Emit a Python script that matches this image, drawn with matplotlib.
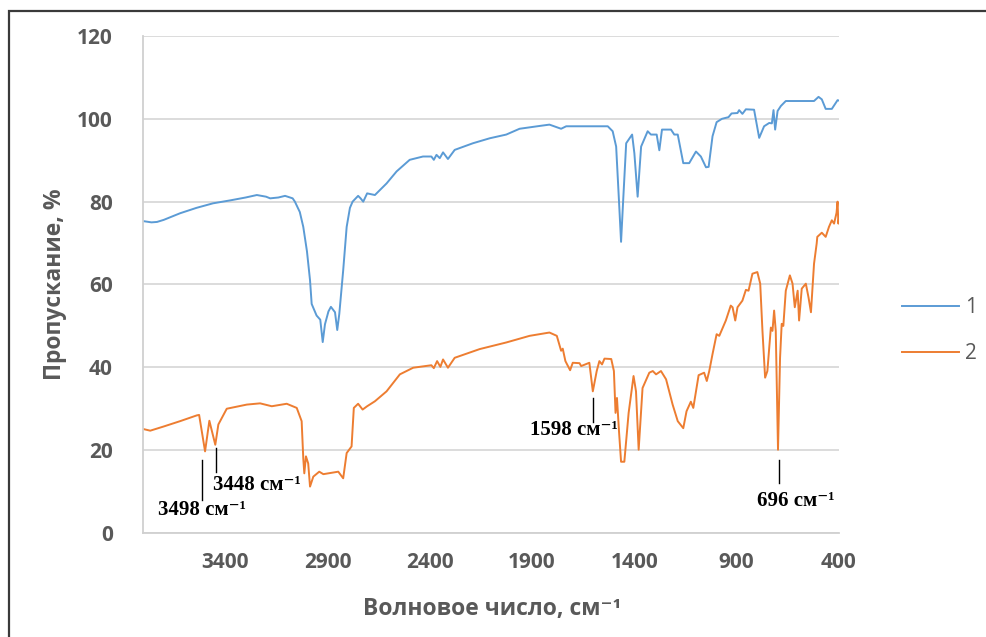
#! /usr/bin/env python3

#IR spectra of two samples, transmittance vs wavenumber.

import matplotlib
matplotlib.use('Agg')
import matplotlib.pyplot as plt
from matplotlib.patches import Rectangle

#Spectrum 1 (blue).
wave1 = [3800, 3760, 3733, 3700, 3620, 3540, 3459, 3376, 3300, 3245, 3200, 3180, 3140, 3107,
         3070, 3059, 3035, 3018, 3000, 2985, 2977, 2953, 2935, 2923, 2912, 2895, 2883, 2863,
         2852, 2842, 2823, 2806, 2790, 2777, 2750, 2738, 2725, 2706, 2668, 2611, 2562, 2498,
         2433, 2392, 2380, 2367, 2351, 2335, 2311, 2278, 2189, 2107, 2026, 1961, 1860, 1815,
         1758, 1733, 1530, 1506, 1489, 1475, 1465, 1455, 1440, 1411, 1400, 1384, 1367, 1335,
         1319, 1291, 1278, 1265, 1221, 1205, 1188, 1161, 1132, 1099, 1075, 1050, 1037, 1018,
         998, 972, 940, 925, 896, 888, 872, 855, 815, 790, 766, 741, 728, 720, 712, 700, 684,
         660, 522, 500, 484, 465, 435, 407, 400]
trans1 = [75.3, 75.0, 75.1, 75.6, 77.2, 78.5, 79.6, 80.3, 81.0, 81.6, 81.2, 80.8, 81.0, 81.4,
          80.8, 80.0, 77.5, 73.9, 68.0, 61.0, 55.3, 52.5, 51.5, 46.1, 50.4, 53.5, 54.6, 53.3,
          49.0, 52.9, 63.4, 73.9, 78.5, 80.0, 81.4, 80.8, 80.0, 82.0, 81.6, 84.4, 87.3, 90.1,
          90.9, 90.9, 90.1, 91.3, 90.5, 91.9, 90.3, 92.5, 94.1, 95.3, 96.2, 97.6, 98.3, 98.6,
          97.6, 98.2, 98.2, 97.0, 93.3, 80.0, 70.3, 80.0, 94.1, 96.2, 91.7, 81.2, 93.3, 97.0,
          96.2, 96.2, 92.4, 97.4, 97.4, 96.2, 96.2, 89.3, 89.3, 92.1, 90.9, 88.3, 88.4, 95.8,
          99.2, 100.0, 100.4, 101.3, 101.4, 102.1, 101.2, 102.3, 102.2, 95.4, 98.2, 99.0, 98.9,
          102.1, 97.4, 101.9, 103.1, 104.3, 104.3, 105.3, 104.7, 102.4, 102.4, 104.5, 104.4]

#Spectrum 2 (orange).
wave2 = [3800, 3766, 3701, 3620, 3538, 3527, 3498, 3477, 3448, 3433, 3392, 3294, 3229, 3172,
         3099, 3050, 3026, 3018, 3013, 3005, 2994, 2985, 2969, 2940, 2920, 2847, 2823, 2806,
         2782, 2771, 2750, 2728, 2706, 2668, 2611, 2546, 2481, 2392, 2380, 2364, 2348, 2335,
         2311, 2278, 2156, 2026, 1912, 1815, 1779, 1758, 1750, 1737, 1714, 1701, 1668, 1660,
         1620, 1603, 1584, 1571, 1558, 1546, 1513, 1500, 1492, 1485, 1475, 1465, 1449, 1428,
         1404, 1392, 1379, 1360, 1327, 1310, 1294, 1270, 1245, 1213, 1188, 1161, 1145, 1124,
         1112, 1086, 1059, 1046, 1034, 1018, 998, 985, 953, 929, 920, 907, 896, 872, 855, 842,
         823, 799, 785, 774, 761, 750, 733, 725, 717, 709, 698, 688, 680, 672, 660, 640, 627,
         616, 602, 595, 582, 562, 549, 537, 522, 509, 506, 484, 465, 449, 435, 424, 412, 407,
         403, 400]
trans2 = [25.1, 24.7, 25.7, 27.0, 28.4, 28.5, 19.7, 27.1, 21.3, 26.2, 30.0, 31.0, 31.3, 30.6,
          31.2, 30.2, 27.0, 18.0, 14.4, 18.5, 16.8, 11.2, 13.6, 14.8, 14.2, 14.8, 13.2, 19.3,
          20.9, 30.2, 31.2, 29.8, 30.6, 31.8, 34.2, 38.3, 39.9, 40.5, 39.8, 41.5, 40.1, 41.9,
          39.9, 42.3, 44.4, 46.0, 47.6, 48.4, 47.6, 44.0, 44.5, 41.5, 39.3, 41.1, 41.0, 40.3,
          41.1, 34.2, 39.1, 41.5, 40.7, 42.1, 42.0, 39.1, 29.0, 32.6, 24.5, 17.2, 17.2, 29.0,
          37.9, 34.2, 20.1, 35.0, 38.7, 39.1, 38.3, 39.1, 37.1, 31.0, 27.0, 25.3, 29.4, 31.7,
          30.2, 38.1, 38.7, 36.7, 39.1, 43.2, 48.0, 47.6, 51.3, 54.9, 54.5, 51.3, 54.5, 56.1,
          58.7, 58.5, 62.6, 63.0, 60.2, 48.8, 37.5, 39.1, 49.6, 48.8, 53.7, 48.8, 20.1, 42.3,
          50.5, 50.0, 58.5, 62.2, 60.2, 54.5, 58.5, 51.3, 59.0, 60.2, 56.9, 53.3, 65.0, 69.9,
          71.5, 72.5, 71.5, 73.9, 75.5, 74.7, 77.3, 80.0, 74.7, 76.0]

seriesNames = ['1', '2']
xTicks = [3400, 2900, 2400, 1900, 1400, 900, 400]
yTicks = [0, 20, 40, 60, 80, 100, 120]

#Marked peaks of spectrum 2.
peakLabels = ['3498 см⁻¹', '3448 см⁻¹', '1598 см⁻¹', '696 см⁻¹']


def main() :
  plt.rcParams['font.family'] = ['Open Sans', 'DejaVu Sans']
  gray = '#595959'

  fig = plt.figure(figsize = (9.86, 6.37), dpi = 100)
  ax = fig.add_axes([0.1453, 0.1633, 0.7056, 0.7802])

  ax.plot(wave1, trans1, color = '#5B9BD5', lw = 1.4, label = seriesNames[0])
  ax.plot(wave2, trans2, color = '#ED7D31', lw = 1.4, label = seriesNames[1])

  ax.set_xlim(3800, 400)
  ax.set_ylim(0, 120)
  ax.set_xticks(xTicks)
  ax.set_yticks(yTicks)
  ax.tick_params(length = 0, labelsize = 15, labelcolor = gray)
  ax.tick_params(axis = 'x', pad = 14)
  ax.tick_params(axis = 'y', pad = 22)
  for lab in ax.get_xticklabels() + ax.get_yticklabels() :
    lab.set_fontweight('bold')

  ax.grid(axis = 'y', color = '#D9D9D9', lw = 1.3)
  ax.set_axisbelow(True)
  for side in ['top', 'right'] :
    ax.spines[side].set_visible(False)
  for side in ['left', 'bottom'] :
    ax.spines[side].set_color('#D0D0D0')
    ax.spines[side].set_linewidth(1.3)

  #Axis titles.
  fig.text(491.7/986, 1 - 615/637, 'Волновое число, см⁻¹', ha = 'center', va = 'baseline',
           fontsize = 16.5, fontweight = 'bold', color = gray)
  fig.text(55/986, 1 - 284/637, 'Пропускание, %', ha = 'center', va = 'center',
           rotation = 90, fontsize = 16.5, fontweight = 'bold', color = gray)

  #Peak marks: tick line and a Times-like bold label.
  serif = ['Liberation Serif', 'DejaVu Serif']
  lines = [(3515, 17.6, 8.0), (3445, 20.5, 14.8), (1603, 32.6, 26.9), (695, 17.6, 12.1)]
  texts = [(3730, 5.6), (3460, 11.6), (1912, 24.9), (800, 7.8)]
  for lab, (lx, y1, y2), (tx, ty) in zip(peakLabels, lines, texts) :
    ax.plot([lx, lx], [y1, y2], color = 'black', lw = 1.0)
    ax.text(tx, ty, lab, ha = 'left', va = 'center', fontsize = 15, fontweight = 'bold',
            family = serif, color = 'black')

  leg = ax.legend(loc = 'center left', bbox_to_anchor = (0.9145, 0.4804),
                  bbox_transform = fig.transFigure, frameon = False, fontsize = 15,
                  handlelength = 2.75, handletextpad = 0.3, borderpad = 0,
                  borderaxespad = 0, labelspacing = 1.2)
  for t in leg.get_texts() :
    t.set_color(gray)

  #Frame round the whole picture.
  fig.add_artist(Rectangle((9/986, -0.1), 1.2, 1 - 11/637 + 0.1, transform = fig.transFigure,
                           fill = False, edgecolor = '#3A3A3A', lw = 1.6))

  fig.savefig('out.png', dpi = 100)


if __name__ == '__main__':
  main()
